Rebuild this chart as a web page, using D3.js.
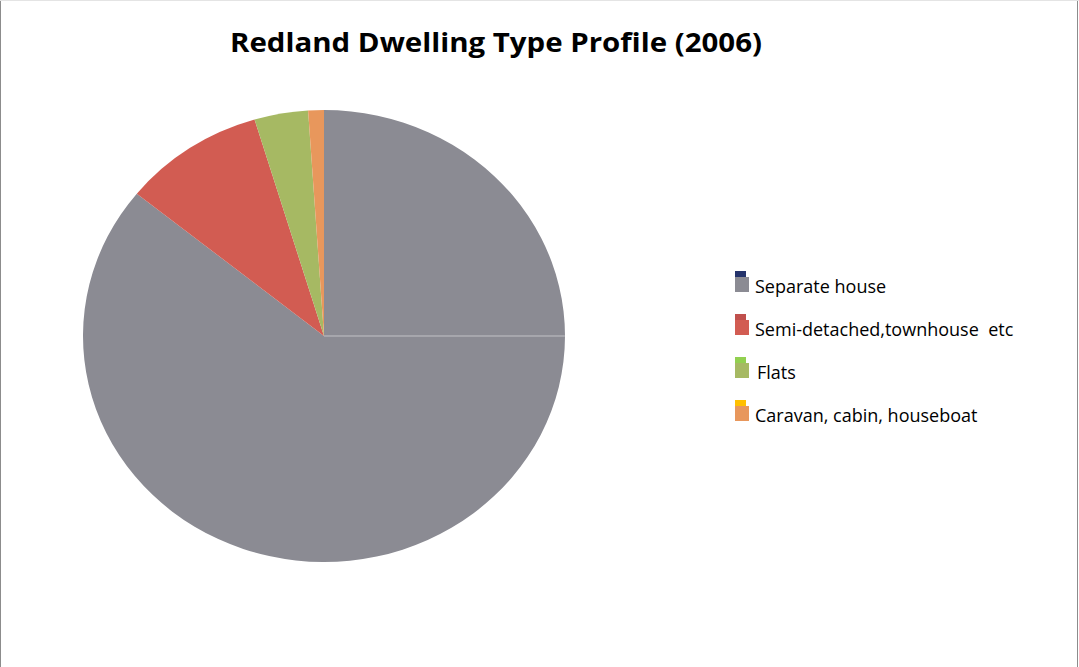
<!DOCTYPE html>
<html>
<head>
<meta charset="utf-8">
<script src="https://cdn.jsdelivr.net/npm/d3@7"></script>
<style>
  html, body { margin: 0; padding: 0; background: #fff; }
  svg { display: block; }
  .item text { white-space: pre; }
</style>
</head>
<body>
<svg class="chart"></svg>
<script>
const WIDTH = 1079,
    HEIGHT = 667;

// dwelling types, in the order the pie runs clockwise from 12 o'clock
const categories = ['Separate house', 'Semi-detached,townhouse  etc', 'Flats', 'Caravan, cabin, houseboat'];
const shares = [85.8, 9.5, 3.6, 1.05];
const sliceColors = ['#8b8b93', '#d25c52', '#a6b963', '#e8975c'];
const stripColors = ['#24336b', '#c0504d', '#92d050', '#ffc000'];

const data = categories.map((c, i) => ({ name: c, value: shares[i] }));

// pie is drawn a bit wider than tall, like the original
const CX = 324, CY = 336,
    RX = 241, RY = 226;

const svg = d3.select('.chart')
    .attr('width', WIDTH)
    .attr('height', HEIGHT);

// frame
svg.append('line')
    .attr('x1', 0.5).attr('y1', 0).attr('x2', 0.5).attr('y2', HEIGHT)
    .attr('stroke', '#8c8c8c');
svg.append('line')
    .attr('x1', WIDTH - 1.5).attr('y1', 0).attr('x2', WIDTH - 1.5).attr('y2', HEIGHT)
    .attr('stroke', '#8c8c8c');
svg.append('line')
    .attr('x1', 0).attr('y1', 0.5).attr('x2', WIDTH).attr('y2', 0.5)
    .attr('stroke', '#e4e4e4');

// title
svg.append('text')
    .attr('x', 496)
    .attr('y', 52)
    .attr('text-anchor', 'middle')
    .attr('font-family', '"Open Sans", sans-serif')
    .attr('font-weight', 'bold')
    .attr('font-size', 27)
    .attr('textLength', 532)
    .attr('lengthAdjust', 'spacingAndGlyphs')
    .attr('fill', '#000')
    .text('Redland Dwelling Type Profile (2006)');

const pie = d3.pie()
    .sort(null)
    .value(d => d.value);

const arc = d3.arc()
    .innerRadius(0)
    .outerRadius(RY);

const pieG = svg.append('g')
    .attr('transform', `translate(${CX},${CY}) scale(${RX / RY},1)`);

pieG.selectAll('path.slice')
    .data(pie(data))
    .enter()
    .append('path')
    .attr('class', 'slice')
    .attr('d', arc)
    .attr('fill', (d, i) => sliceColors[i]);

// faint seam across the gray slice at 3 o'clock
pieG.append('line')
    .attr('x1', 0).attr('y1', 0)
    .attr('x2', RY).attr('y2', 0)
    .attr('stroke', '#c2c2c6')
    .attr('stroke-width', 1)
    .attr('vector-effect', 'non-scaling-stroke');

// legend
const legendY = d3.scaleBand()
    .domain(categories)
    .range([266, 438]);

const legend = svg.append('g')
    .selectAll('g.item')
    .data(categories)
    .enter()
    .append('g')
    .attr('class', 'item')
    .attr('transform', d => `translate(735,${legendY(d)})`);

legend.append('rect')
    .attr('x', 0).attr('y', 5)
    .attr('width', 11).attr('height', 10)
    .attr('fill', (d, i) => stripColors[i]);

legend.append('rect')
    .attr('x', 0).attr('y', 11)
    .attr('width', 14).attr('height', 15)
    .attr('fill', (d, i) => sliceColors[i]);

legend.append('text')
    .attr('x', (d, i) => i === 2 ? 22 : 20)
    .attr('y', 27)
    .attr('font-family', '"Open Sans", sans-serif')
    .attr('font-size', 18)
    .attr('fill', '#000')
    .text(d => d);
</script>
</body>
</html>
